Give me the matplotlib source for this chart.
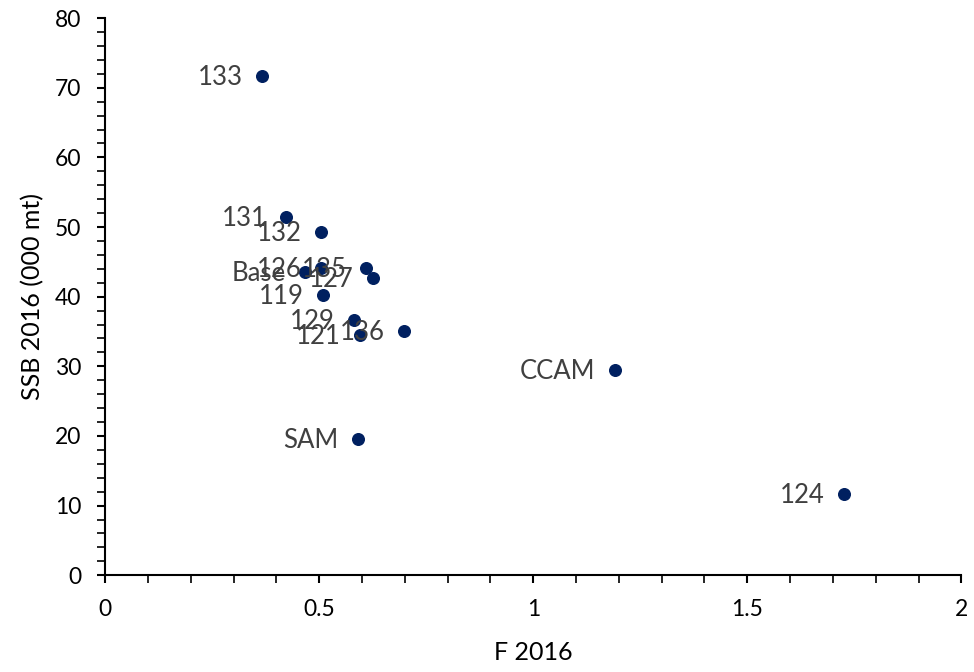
import matplotlib.pyplot as plt
from matplotlib.ticker import MultipleLocator

# run results: fishing mortality vs spawning stock biomass in 2016
runs = ["133", "131", "132", "Base", "126", "135", "127", "119",
        "129", "121", "136", "CCAM", "SAM", "124"]
f_2016 = [0.367, 0.423, 0.505, 0.467, 0.505, 0.610, 0.626, 0.509,
          0.582, 0.596, 0.699, 1.190, 0.591, 1.727]
ssb_2016 = [71.7, 51.4, 49.3, 43.5, 44.1, 44.1, 42.7, 40.2,
            36.6, 34.5, 35.1, 29.5, 19.5, 11.6]

plt.rcParams['font.family'] = ['Lato', 'DejaVu Sans']

fig = plt.figure(figsize=(9.74, 6.72), dpi=100)
ax = fig.add_axes([0.108, 0.144, 0.879, 0.829])

ax.scatter(f_2016, ssb_2016, s=70, color='#002060', zorder=3)

for name, x, y in zip(runs, f_2016, ssb_2016):
    ax.annotate(name, (x, y), xytext=(-14, -1), textcoords='offset points',
                ha='right', va='center', fontsize=18.5, color='#404040')

ax.set_xlim(0, 2)
ax.set_ylim(0, 80)
ax.xaxis.set_major_locator(MultipleLocator(0.5))
ax.xaxis.set_minor_locator(MultipleLocator(0.1))
ax.yaxis.set_major_locator(MultipleLocator(10))
ax.yaxis.set_minor_locator(MultipleLocator(2))
ax.xaxis.set_major_formatter(plt.FuncFormatter(lambda v, p: f'{v:g}'))

for side in ['top', 'right']:
    ax.spines[side].set_visible(False)
for side in ['left', 'bottom']:
    ax.spines[side].set_linewidth(1.5)

ax.tick_params(which='major', direction='out', length=6, width=1.5,
               labelsize=16.5, pad=11)
ax.tick_params(which='minor', direction='out', length=6, width=1.2)

ax.set_xlabel('F 2016', fontsize=18, labelpad=15)
ax.set_ylabel('SSB 2016 (000 mt)', fontsize=18, labelpad=8)

fig.savefig('out.png', dpi=100)
